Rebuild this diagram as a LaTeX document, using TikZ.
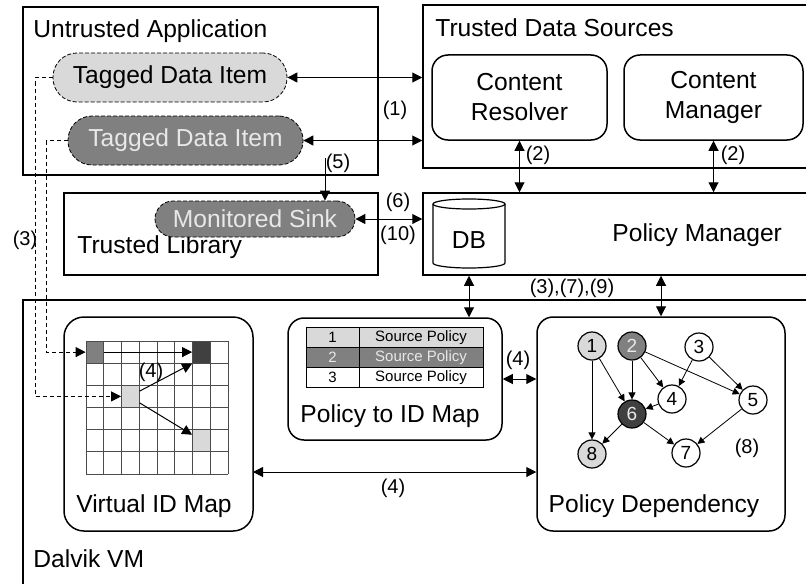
\documentclass[tikz,border=0pt]{standalone}
\usepackage{fontspec}
\setmainfont{Liberation Sans}
\usetikzlibrary{arrows.meta,fit}
\definecolor{lightcell}{HTML}{D9D9D9}
\definecolor{midcell}{HTML}{808080}
\definecolor{darkcell}{HTML}{404040}
\definecolor{paletext}{HTML}{E8E8E8}
\tikzset{
  big/.style={font={\fontsize{12.3pt}{15pt}\selectfont}},
  title/.style={big,inner sep=0pt},
  lbl/.style={font={\fontsize{10pt}{12pt}\selectfont},inner sep=0pt},
  panel/.style={draw,line width=0.75pt,inner sep=0pt},
  roundbox/.style={panel,rounded corners=8pt},
  item/.style={draw,dash pattern=on 2pt off 1pt,line width=0.4pt,rounded corners=12pt,inner sep=0pt},
  conn/.style={line width=0.5pt,{Triangle[length=5pt,width=5pt]}-{Triangle[length=5pt,width=5pt]}},
  oneway/.style={line width=0.5pt,-{Triangle[length=5pt,width=5pt]}},
  dashline/.style={line width=0.5pt,dash pattern=on 2pt off 1.5pt,-{Triangle[length=5pt,width=5pt]}},
  cell/.style={minimum width=8.875pt,minimum height=11.08pt,inner sep=0pt},
  gridline/.style={line width=0.5pt,draw=gray!60!black},
  tcell/.style={draw,line width=0.5pt,minimum height=9.83pt,inner sep=0pt,font={\fontsize{7.5pt}{9pt}\selectfont}},
  gnode/.style={circle,draw,line width=0.6pt,minimum size=14pt,inner sep=0pt,font={\fontsize{9.5pt}{11pt}\selectfont}},
  garrow/.style={line width=0.4pt,-{Triangle[length=3.5pt,width=3.5pt]}}
}
\begin{document}
\begin{tikzpicture}[x=0.5pt,y=-0.5pt]
\useasboundingbox (0,0) rectangle (806,583);
\clip (0,0) rectangle (806,583);
\node[panel,fit={(23,7) (378,175)}] (ua) {};
\node[title,anchor=base west] (uat) at (33,38) {Untrusted Application};
\node[item,fill=lightcell,fit={(53,53) (287,102)}] (ta1) {};
\node[big] (ta1t) at (ta1.center) {Tagged Data Item};
\node[item,fill=midcell,fit={(68,116) (303,165)}] (ta2) {};
\node[big,text=paletext] (ta2t) at (ta2.center) {Tagged Data Item};
\node[panel,fit={(64,193) (378,275)}] (tl) {};
\node[title,anchor=base west] (tlt) at (77,253) {Trusted Library};
\node[item,fill=midcell,rounded corners=9pt,fit={(155,201) (355,237)}] (ms) {};
\node[big,text=paletext] (mst) at (ms.center) {Monitored Sink};
\node[panel,fit={(423,5) (830,168)}] (tds) {};
\node[title,anchor=base west] (tdst) at (435,37) {Trusted Data Sources};
\node[roundbox,fit={(432,55) (607,140)}] (cr) {};
\node[big,align=center] (crt) at (cr.center) {Content\\Resolver};
\node[roundbox,fit={(624,55) (803,140)}] (cm) {};
\node[big,align=center] (cmt) at (cm.center) {Content\\Manager};
\node[panel,fit={(423,193) (830,275)}] (pm) {};
\draw[line width=0.6pt,fill=white] (433,204) -- (433,263) arc[start angle=180,end angle=0,x radius=36,y radius=5] -- (505,204);
\draw[line width=0.6pt] (469,204) ellipse[x radius=36,y radius=5];
\node[big] (db) at (469,240) {DB};
\node[title,anchor=base west] (pmt) at (612,241) {Policy Manager};
\node[panel,fit={(23,300) (830,600)}] (dvm) {};
\node[title,anchor=base west] (dvmt) at (33,567) {Dalvik VM};
\node[roundbox,rounded corners=10pt,fit={(64,317) (253,531)}] (vim) {};
\fill[midcell] (86,341) rectangle (103.75,363.17);
\fill[darkcell] (192.5,341) rectangle (210.25,363.17);
\fill[lightcell] (121.5,385.33) rectangle (139.25,407.5);
\fill[lightcell] (192.5,429.67) rectangle (210.25,451.83);
\foreach \i in {0,...,8}
  \draw[gridline] (86+\i*17.75,341) -- (86+\i*17.75,474);
\foreach \j in {0,...,6}
  \draw[gridline] (86,341+\j*22.17) -- (228,341+\j*22.17);
\node[cell] (c00) at (94.88,352.08) {};
\node[cell] (c60) at (201.38,352.08) {};
\node[cell] (c22) at (130.38,396.42) {};
\node[cell] (c64) at (201.38,440.75) {};
\node[title,anchor=base] (vimt) at (154,512) {Virtual ID Map};
\node[roundbox,fit={(288,318) (502,440)}] (pt) {};
\node[tcell,fill=lightcell,minimum width=26.5pt] (n1) at (332.5,337.8) {1};
\node[tcell,fill=lightcell,minimum width=62pt] (s1) at (421,337.8) {Source Policy};
\node[tcell,fill=midcell,text=paletext,minimum width=26.5pt] (n2) at (332.5,357.5) {2};
\node[tcell,fill=midcell,text=paletext,minimum width=62pt] (s2) at (421,357.5) {Source Policy};
\node[tcell,fill=white,minimum width=26.5pt] (n3) at (332.5,377.2) {3};
\node[tcell,fill=white,minimum width=62pt] (s3) at (421,377.2) {Source Policy};
\node[title,anchor=base] (ptt) at (390,422) {Policy to ID Map};
\node[roundbox,fit={(537,317) (785,531)}] (pd) {};
\node[title,anchor=base] (pdt) at (654,512) {Policy Dependency};
\node[gnode,fill=lightcell] (g1) at (592,346) {1};
\node[gnode,fill=midcell,text=paletext] (g2) at (632,346) {2};
\node[gnode,fill=white] (g3) at (699,347) {3};
\node[gnode,fill=white] (g4) at (672,399) {4};
\node[gnode,fill=white] (g5) at (753,400) {5};
\node[gnode,fill=darkcell,text=paletext] (g6) at (632,414) {6};
\node[gnode,fill=white] (g7) at (686,453) {7};
\node[gnode,fill=lightcell] (g8) at (592,454) {8};
\node[lbl] (l8) at (747,448) {(8)};
\draw[garrow] (g1) -- (g8);
\draw[garrow] (g1) -- (g6);
\draw[garrow] (g2) -- (g6);
\draw[garrow] (g2) -- (g4);
\draw[garrow] (g2) -- (g5);
\draw[garrow] (g3) -- (g4);
\draw[garrow] (g3) -- (g5);
\draw[garrow] (g4) -- (g6);
\draw[garrow] (g6) -- (g8);
\draw[garrow] (g6) -- (g7);
\draw[garrow] (g5) -- (g7);
\draw[conn] (ta1.east) -- (ta1.east -| tds.west);
\draw[conn] (ta2.east) -- (ta2.east -| tds.west);
\node[lbl] (l1) at (395,110) {(1)};
\draw[conn] (cr.south) -- (cr.south |- pm.north);
\node[lbl] (l2a) at (538,155) {(2)};
\draw[conn] (cm.south) -- (cm.south |- pm.north);
\node[lbl] (l2b) at (733,155) {(2)};
\coordinate (s5) at (325,158);
\draw[oneway] (s5) -- (s5 |- ms.north);
\node[lbl] (l5) at (338,163) {(5)};
\draw[conn] (ms.east) -- (ms.east -| pm.west);
\node[lbl] (l6) at (398,202) {(6)};
\node[lbl] (l10) at (398,235) {(10)};
\draw[dashline] (ta1.west) -- ++(-17,0) |- (c22.west);
\draw[dashline] (ta2.west) -- ++(-21,0) |- (c00.west);
\node[lbl] (l3) at (25,240) {(3)};
\draw[oneway] (c00.east) -- (c60.west);
\draw[oneway] (c22.30) -- (c60.south west);
\draw[oneway] (c22.-35) -- (c64.147);
\node[lbl] (l4a) at (151,372) {(4)};
\draw[conn] (db |- pm.south) -- (db |- pt.north);
\draw[conn] (pd.north |- pm.south) -- (pd.north);
\node[lbl] (l379) at (572,288) {(3),(7),(9)};
\draw[conn] (pt.east) -- (pt.east -| pd.west);
\node[lbl] (l4b) at (518,360) {(4)};
\coordinate (a4) at (253,472);
\draw[conn] (a4) -- (a4 -| pd.west);
\node[lbl] (l4c) at (393,488) {(4)};
\end{tikzpicture}
\end{document}
